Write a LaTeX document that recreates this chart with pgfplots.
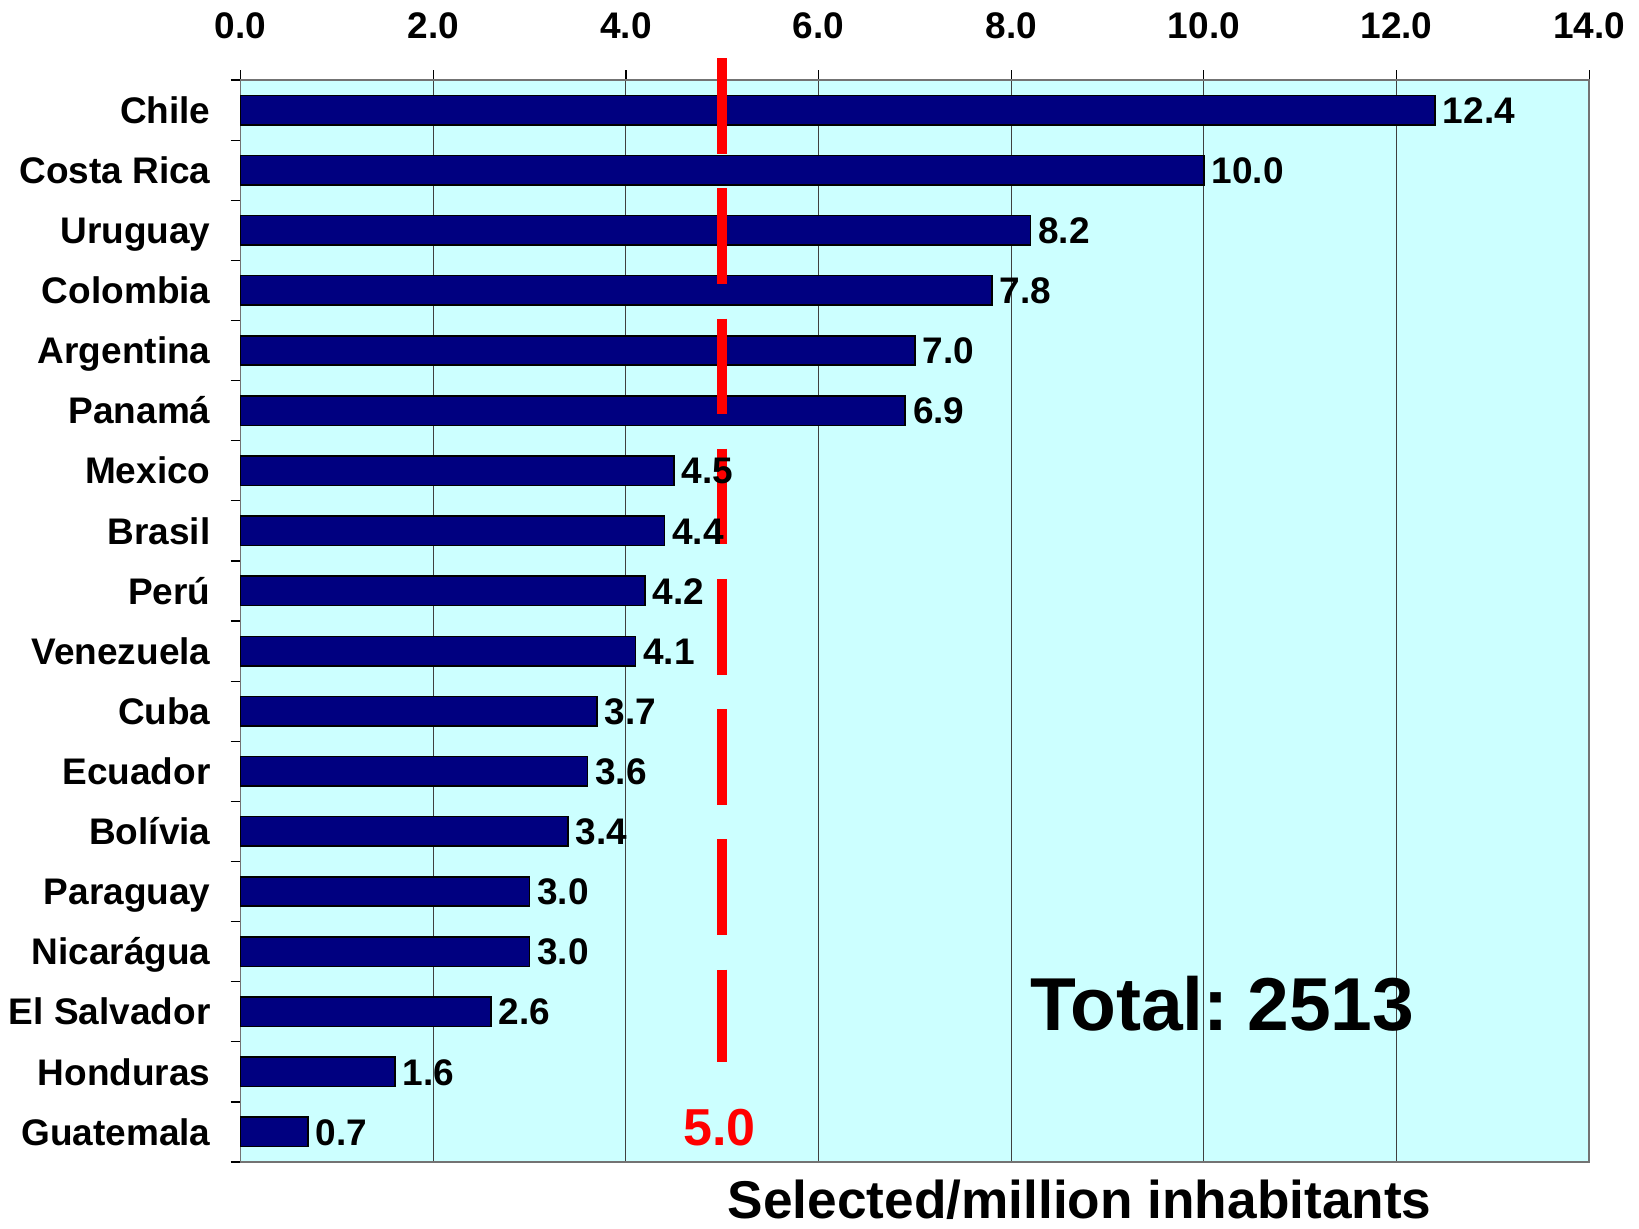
\documentclass[border=0pt]{standalone}
\usepackage{pgfplots}
\pgfplotsset{compat=1.18}
\usepackage{fontspec}
\setmainfont{Liberation Sans}
\definecolor{barblue}{HTML}{000080}
\definecolor{bgcyan}{HTML}{CCFFFF}
\begin{document}
\begin{tikzpicture}
\begin{axis}[
    at={(0,0)}, anchor=south west,
    scale only axis,
    width=674.3pt, height=541pt,
    xbar, bar width=0.49,
    xmin=0, xmax=14,
    ymin=-0.5, ymax=17.5,
    y dir=reverse,
    clip=false,
    axis background/.style={fill=bgcyan},
    axis line style={draw=black!55, line width=0.8pt},
    xtick={0,2,...,14},
    xtick pos=upper, xticklabel pos=upper,
    xmajorgrids,
    grid style={draw=black!75, line width=0.5pt},
    ytick={-0.5,0.5,...,17.5},
    yticklabel=\empty,
    ytick pos=left,
    tick align=outside,
    major tick length=5pt,
    tick style={draw=black, line width=0.6pt},
    /pgf/number format/assume math mode=true,
    xticklabel={\pgfmathprintnumber[fixed,fixed zerofill,precision=1]{\tick}},
    xticklabel style={font=\fontsize{18.5}{20}\selectfont\bfseries, yshift=11.8pt},
    extra y ticks={0,1,...,17},
    extra y tick labels={Chile,Costa Rica,Uruguay,Colombia,Argentina,Panamá,Mexico,Brasil,Perú,Venezuela,Cuba,Ecuador,Bolívia,Paraguay,Nicarágua,El Salvador,Honduras,Guatemala},
    extra y tick style={major tick length=0pt,
        yticklabel style={font=\fontsize{18.5}{20}\selectfont\bfseries,
            text height=13.2pt, text depth=0pt, xshift=-11.5pt}},
    point meta=x,
    nodes near coords={\pgfmathprintnumber[fixed,fixed zerofill,precision=1]{\pgfplotspointmeta}},
    nodes near coords style={anchor=west, font=\fontsize{18.5}{20}\selectfont\bfseries,
        text height=13.2pt, text depth=0pt, inner sep=2pt, xshift=1.5pt},
]
\addplot[fill=barblue, draw=black, line width=0.8pt] coordinates {
    (12.4,0) (10.0,1) (8.2,2) (7.8,3) (7.0,4) (6.9,5) (4.5,6) (4.4,7) (4.2,8)
    (4.1,9) (3.7,10) (3.6,11) (3.4,12) (3.0,13) (3.0,14) (2.6,15) (1.6,16) (0.7,17)
};
\addplot[xbar=0pt, draw=red, line width=5.25pt, line cap=butt,
    dash pattern=on 47.8pt off 17.3pt, nodes near coords={}, forget plot, sharp plot]
    coordinates {(5,-0.864) (5,15.83)};
\node[text=red, font=\fontsize{26}{28}\selectfont\bfseries] at (axis cs:4.97,16.92) {5.0};
\node[font=\fontsize{37.5}{40}\selectfont\bfseries] at (axis cs:10.19,14.87) {Total:\hspace{-0.12em} 2513};
\node[font=\fontsize{26.6}{28}\selectfont\bfseries, text height=19pt, text depth=0pt] at (axis cs:8.71,18.12) {Selected/million inhabitants};
\end{axis}
\pgfresetboundingbox
\path[use as bounding box] (-120.3pt,-33pt) rectangle (699.2pt,581pt);
\end{tikzpicture}
\end{document}
